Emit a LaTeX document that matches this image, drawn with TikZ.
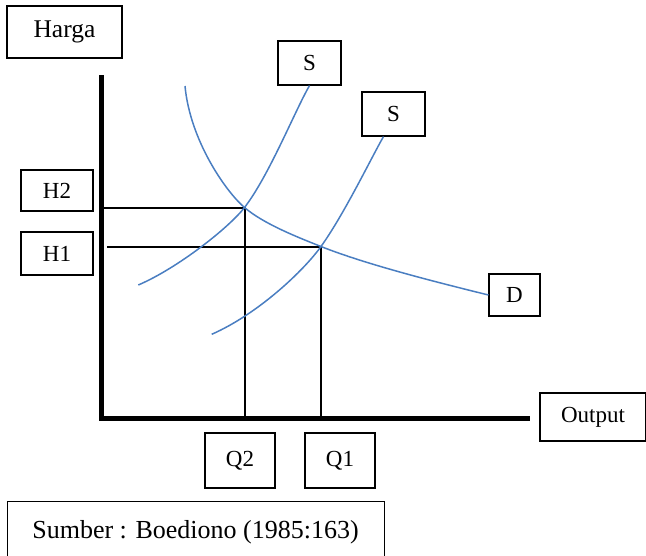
\documentclass[tikz,border=0pt]{standalone}
\usepackage{fontspec}
\setmainfont{Liberation Serif}
\usepackage{tikz}
\usetikzlibrary{calc}

\begin{document}
\begin{tikzpicture}[x=1pt, y=-1pt,
    kotak/.style={draw, line width=1.1pt, inner sep=0pt,
        font=\fontsize{23}{27}\selectfont},
    kurva/.style={line width=1.5pt, color={rgb,255:red,74;green,126;blue,193}},
    bantu/.style={line width=2pt}]

    \useasboundingbox (0,0) rectangle (646,555);
    \clip (0,0) rectangle (646,555);

    % Label-label
    \node[kotak, minimum width=115, minimum height=52,
          font=\fontsize{25.5}{30}\selectfont] (harga) at (64.5,32) {Harga};
    \node[kotak, minimum width=63, minimum height=44]  (sA)  at (309.5,63)  {S};
    \node[kotak, minimum width=63, minimum height=44]  (sB)  at (393.5,114) {S};
    \node[kotak, minimum width=72, minimum height=41]  (hdua) at (57,190.5) {H2};
    \node[kotak, minimum width=72, minimum height=43]  (hsatu) at (57,253.5) {H1};
    \node[kotak, minimum width=51, minimum height=42]  (dlab) at (514.5,295) {D};
    \node[kotak, minimum width=106, minimum height=48] (output) at (593,417) {Output};
    \node[kotak, minimum width=70, minimum height=55]  (qdua) at (240,460.5) {Q2};
    \node[kotak, minimum width=70, minimum height=55]  (qsatu) at (340,460.5) {Q1};
    \node[kotak, minimum width=377, minimum height=62, anchor=north west,
          font=\fontsize{26}{30}\selectfont] (sumber) at (6.5,500.5) {\raisebox{5pt}{Sumber : Boediono (1985:163)}};

    % Titik keseimbangan
    \coordinate (e2) at (244.5,207.5);
    \coordinate (e1) at (321,246.5);

    % Sumbu
    \draw[line width=5pt] (101,75) -- (101,418) -- (530,418);

    % Garis bantu
    \draw[bantu] (104,207.5) -- (e2) -- (e2 |- 0,416);
    \draw[bantu] (107,246.5) -- (e1) -- (e1 |- 0,416);

    % Kurva permintaan
    \draw[kurva] (185,86) .. controls (190,140) and (225.5,191.3) .. (e2)
        .. controls +(19,16.3) and +(-23.2,-9.2) .. (e1)
        .. controls +(46.5,18.5) and (440,283) .. (dlab.west);

    % Kurva penawaran
    \draw[kurva] (138.3,285) .. controls (178,268) and (229.3,227.3) .. (e2)
        .. controls +(24.4,-31.6) and (294.8,111.1) .. (sA.south);
    \draw[kurva] (211.7,334.3) .. controls (258,314) and (303.6,270.8) .. (e1)
        .. controls +(23.2,-32.4) and (371.3,157.8) .. ([xshift=-10pt]sB.south);
\end{tikzpicture}
\end{document}
